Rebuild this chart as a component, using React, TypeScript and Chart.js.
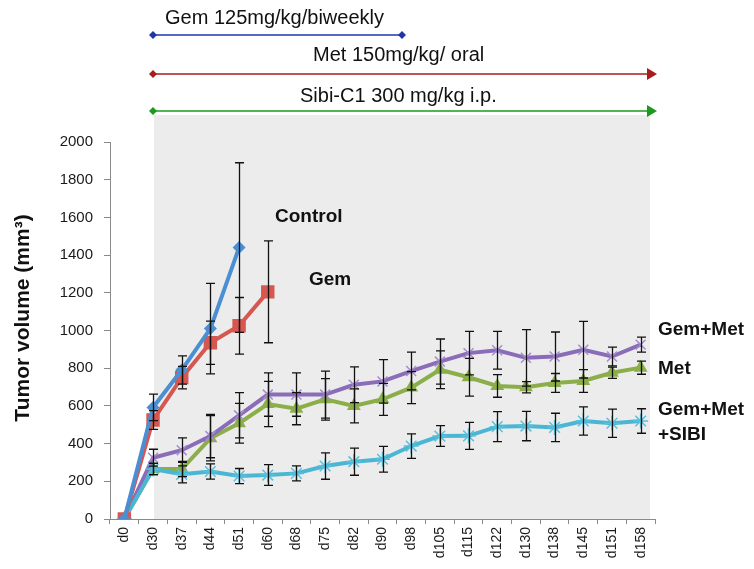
import React, { useEffect, useRef } from "react";
import { Chart, registerables } from "chart.js";

Chart.register(...registerables);

const labels = ["d0", "d30", "d37", "d44", "d51", "d60", "d68", "d75", "d82", "d90", "d98", "d105", "d115", "d122", "d130", "d138", "d145", "d151", "d158"];

const controlVals = [0, 592, 790, 1010, 1440, null, null, null, null, null, null, null, null, null, null, null, null, null, null];
const controlErr = [0, 70, 75, 240, 450, 0, 0, 0, 0, 0, 0, 0, 0, 0, 0, 0, 0, 0, 0];

const gemVals = [0, 525, 750, 935, 1025, 1205, null, null, null, null, null, null, null, null, null, null, null, null, null];
const gemErr = [0, 50, 60, 115, 150, 270, 0, 0, 0, 0, 0, 0, 0, 0, 0, 0, 0, 0, 0];

const gemMetVals = [0, 325, 365, 440, 550, 660, 660, 660, 712, 730, 785, 835, 880, 895, 855, 862, 898, 862, 925];
const gemMetErr = [0, 45, 65, 115, 120, 115, 115, 125, 95, 115, 100, 120, 115, 100, 150, 130, 150, 50, 40];

const metVals = [0, 265, 265, 428, 508, 610, 585, 635, 600, 635, 697, 792, 752, 706, 699, 722, 732, 776, 803];
const metErr = [0, 30, 40, 120, 105, 120, 85, 110, 90, 85, 85, 100, 100, 60, 30, 50, 60, 30, 35];

const sibiVals = [0, 265, 237, 252, 228, 233, 242, 281, 304, 317, 387, 440, 441, 490, 493, 486, 520, 508, 520];
const sibiErr = [0, 30, 45, 40, 40, 55, 40, 70, 72, 68, 65, 55, 72, 80, 78, 75, 75, 75, 65];

const yTicks = [0, 200, 400, 600, 800, 1000, 1200, 1400, 1600, 1800, 2000];

const errorSets = [controlErr, gemErr, gemMetErr, metErr, sibiErr];

const FONT = "'Liberation Sans', Arial, sans-serif";

const overlayPlugin = {
  id: "overlay",
  beforeDraw(chart: any) {
    const { ctx, chartArea, scales } = chart;
    const x = scales.x;
    ctx.save();
    ctx.fillStyle = "#ececec";
    const x0 = x.getPixelForValue(1) + 1;
    ctx.fillRect(x0, 115, chartArea.right - 5 - x0, chartArea.bottom - 115);
    ctx.restore();
  },
  afterDatasetsDraw(chart: any) {
    const { ctx, scales } = chart;
    const x = scales.x;
    const y = scales.y;
    ctx.save();
    ctx.strokeStyle = "#111";
    ctx.lineWidth = 1.3;
    chart.data.datasets.forEach((ds: any, i: number) => {
      const errs = errorSets[i];
      ds.data.forEach((v: number | null, j: number) => {
        const e = errs[j];
        if (v == null || !e) return;
        const px = Math.round(x.getPixelForValue(j)) + 0.5;
        const top = y.getPixelForValue(v + e);
        const bot = y.getPixelForValue(v - e);
        ctx.beginPath();
        ctx.moveTo(px, top);
        ctx.lineTo(px, bot);
        ctx.moveTo(px - 4.5, top);
        ctx.lineTo(px + 4.5, top);
        ctx.moveTo(px - 4.5, bot);
        ctx.lineTo(px + 4.5, bot);
        ctx.stroke();
      });
    });
    ctx.restore();
  },
  afterDraw(chart: any) {
    const { ctx, chartArea, scales } = chart;
    const x = scales.x;
    const startX = x.getPixelForValue(1);
    const endX = chartArea.right + 2;
    ctx.save();

    const diamond = (cx: number, cy: number, col: string) => {
      ctx.fillStyle = col;
      ctx.beginPath();
      ctx.moveTo(cx - 4, cy);
      ctx.lineTo(cx, cy - 4);
      ctx.lineTo(cx + 4, cy);
      ctx.lineTo(cx, cy + 4);
      ctx.closePath();
      ctx.fill();
    };
    const arrowHead = (tx: number, cy: number, col: string) => {
      ctx.fillStyle = col;
      ctx.beginPath();
      ctx.moveTo(tx, cy);
      ctx.lineTo(tx - 10, cy - 6);
      ctx.lineTo(tx - 10, cy + 6);
      ctx.closePath();
      ctx.fill();
    };

    // Gem arrow
    const blue = "#2036a8";
    ctx.strokeStyle = blue;
    ctx.lineWidth = 1.5;
    ctx.beginPath();
    ctx.moveTo(startX, 35);
    ctx.lineTo(402, 35);
    ctx.stroke();
    diamond(startX, 35, blue);
    diamond(402, 35, blue);

    // Met arrow
    const red = "#a81c1c";
    ctx.strokeStyle = red;
    ctx.beginPath();
    ctx.moveTo(startX, 74);
    ctx.lineTo(endX - 6, 74);
    ctx.stroke();
    diamond(startX, 74, red);
    arrowHead(endX, 74, red);

    // Sibi arrow
    const green = "#1c9a1c";
    ctx.strokeStyle = green;
    ctx.beginPath();
    ctx.moveTo(startX, 111);
    ctx.lineTo(endX - 6, 111);
    ctx.stroke();
    diamond(startX, 111, green);
    arrowHead(endX, 111, green);

    ctx.fillStyle = "#111";
    ctx.textBaseline = "middle";
    ctx.textAlign = "left";
    ctx.font = `20px ${FONT}`;
    ctx.fillText("Gem 125mg/kg/biweekly", 165, 18);
    ctx.fillText("Met 150mg/kg/ oral", 313, 55);
    ctx.fillText("Sibi-C1 300 mg/kg i.p.", 300, 96);

    ctx.font = `bold 19px ${FONT}`;
    ctx.fillText("Control", 275, 217);
    ctx.fillText("Gem", 309, 280);
    ctx.fillText("Gem+Met", 658, 330);
    ctx.fillText("Met", 658, 369);
    ctx.fillText("Gem+Met", 658, 410);
    ctx.fillText("+SIBI", 658, 435);

    // y axis title
    ctx.save();
    ctx.translate(23, 318);
    ctx.rotate(-Math.PI / 2);
    ctx.textAlign = "center";
    ctx.font = `bold 21px ${FONT}`;
    ctx.fillText("Tumor volume (mm³)", 0, 0);
    ctx.restore();

    ctx.restore();
  },
};

export default function App() {
  const canvasRef = useRef<HTMLCanvasElement | null>(null);

  useEffect(() => {
    const canvas = canvasRef.current;
    if (!canvas) return;
    const lw = 4;
    const chart = new Chart(canvas, {
      type: "line",
      data: {
        labels,
        datasets: [
          {
            label: "Control",
            data: controlVals,
            borderColor: "#4b8fd2",
            backgroundColor: "#4b8fd2",
            borderWidth: lw,
            pointStyle: "rectRot",
            pointRadius: 6.5,
            pointBorderWidth: 0,
            order: 1,
          },
          {
            label: "Gem",
            data: gemVals,
            borderColor: "#d5574f",
            backgroundColor: "#d5574f",
            borderWidth: lw,
            pointStyle: "rect",
            pointRadius: 9.5,
            pointBorderWidth: 0,
            order: 2,
          },
          {
            label: "Gem+Met",
            data: gemMetVals,
            borderColor: "#8b6cb8",
            backgroundColor: "#a68cd0",
            pointBorderColor: "#a68cd0",
            borderWidth: lw,
            pointStyle: "crossRot",
            pointRadius: 7,
            pointBorderWidth: 1.5,
            order: 4,
          },
          {
            label: "Met",
            data: metVals,
            borderColor: "#8bae4a",
            backgroundColor: "#8bae4a",
            borderWidth: lw,
            pointStyle: "triangle",
            pointRadius: 8,
            pointBorderWidth: 0,
            order: 5,
          },
          {
            label: "Gem+Met+SIBI",
            data: sibiVals,
            borderColor: "#4bb6d3",
            backgroundColor: "#4bb6d3",
            pointBorderColor: "#58c0dc",
            borderWidth: lw,
            pointStyle: "star",
            pointRadius: 7.5,
            pointBorderWidth: 1.5,
            order: 3,
          },
        ],
      },
      options: {
        animation: false,
        responsive: false,
        maintainAspectRatio: false,
        layout: { padding: { top: 142, right: 99, left: 0, bottom: 0 } },
        plugins: {
          legend: { display: false },
          tooltip: { enabled: false },
          title: { display: false },
        },
        elements: { line: { tension: 0 } },
        scales: {
          x: {
            type: "category",
            offset: true,
            grid: {
              offset: true,
              drawOnChartArea: false,
              drawTicks: true,
              tickLength: 5,
              color: "#8a8a8a",
            },
            border: { color: "#8a8a8a", width: 1 },
            ticks: {
              autoSkip: false,
              minRotation: 90,
              maxRotation: 90,
              padding: 3,
              color: "#1a1a1a",
              font: { family: FONT, size: 14 },
            },
            afterFit: (s: any) => {
              s.height = 50;
            },
          },
          y: {
            min: 0,
            max: 2000,
            afterBuildTicks: (s: any) => {
              s.ticks = yTicks.map((v) => ({ value: v }));
            },
            grid: {
              drawOnChartArea: false,
              drawTicks: true,
              tickLength: 6,
              color: "#8a8a8a",
            },
            border: { color: "#8a8a8a", width: 1 },
            ticks: {
              padding: 11,
              color: "#1a1a1a",
              font: { family: FONT, size: 15 },
              callback: (v: any) => String(v),
            },
            afterFit: (s: any) => {
              s.width = 110;
            },
          },
        },
      },
      plugins: [overlayPlugin],
    } as any);
    return () => chart.destroy();
  }, []);

  return (
    <div style={{ position: "fixed", left: 0, top: 0, width: 754, height: 569, background: "#fff" }}>
      <canvas ref={canvasRef} width={754} height={569} style={{ width: 754, height: 569, display: "block" }} />
    </div>
  );
}
